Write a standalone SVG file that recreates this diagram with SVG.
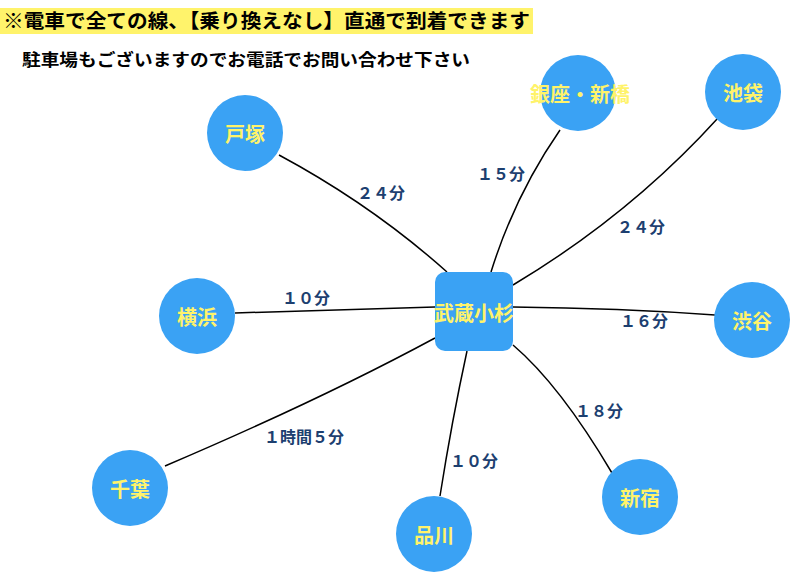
<svg xmlns="http://www.w3.org/2000/svg" width="800" height="583" viewBox="0 0 800 583">
<style>
.node{fill:#3aa2f4;}
.nl{font-family:"Noto Sans CJK JP","Noto Sans",sans-serif;font-weight:bold;font-size:20px;fill:#fff36a;text-anchor:middle;dominant-baseline:central;}
.edge{fill:none;stroke:#000;stroke-width:1.5;}
.el{font-family:"Noto Sans CJK JP","Noto Sans",sans-serif;font-weight:bold;font-size:16px;fill:#1d3f70;}
.hd{font-family:"Noto Sans CJK JP","Noto Sans",sans-serif;font-weight:bold;fill:#000;}
</style>
<rect width="800" height="583" fill="#fff"/>
<g id="header">
<rect x="0" y="8" width="533" height="26" fill="#fff36b"/>
<text class="hd" x="3" y="28" font-size="19.8" textLength="527" lengthAdjust="spacingAndGlyphs">※電車で全ての線、【乗り換えなし】直通で到着できます</text>
<text class="hd" x="22" y="66" font-size="16.5" textLength="448" lengthAdjust="spacingAndGlyphs">駐車場もございますのでお電話でお問い合わせ下さい</text>
</g>
<g id="connectors">
<path class="edge" d="M279,155 Q372,205 447,272"/>
<path class="edge" d="M560,130 Q515,195 491,272"/>
<path class="edge" d="M718,118 Q630,215 513,285"/>
<path class="edge" d="M235,313 L435,307"/>
<path class="edge" d="M513,307 Q620,308 715,315"/>
<path class="edge" d="M165,466 Q320,400 435,338"/>
<path class="edge" d="M440,496 Q452,420 467,351"/>
<path class="edge" d="M612,473 Q560,385 513,345"/>
<text class="el" x="357" y="199">２４分</text>
<text class="el" x="477" y="180">１５分</text>
<text class="el" x="617" y="233">２４分</text>
<text class="el" x="282" y="304">１０分</text>
<text class="el" x="620" y="327">１６分</text>
<text class="el" x="264" y="443">１時間５分</text>
<text class="el" x="450" y="467">１０分</text>
<text class="el" x="575" y="417">１８分</text>
</g>
<g id="musashikosugi"><rect class="node" x="435" y="272" width="78" height="79" rx="10"/><text class="nl" x="474" y="312" font-size="17">武蔵小杉</text></g>
<g id="totsuka"><circle class="node" cx="245" cy="133" r="38"/><text class="nl" x="245" y="133">戸塚</text></g>
<g id="ginza"><circle class="node" cx="578" cy="93" r="38"/><text class="nl" x="580" y="93" font-size="17.5">銀座・新橋</text></g>
<g id="ikebukuro"><circle class="node" cx="743" cy="92" r="38"/><text class="nl" x="743" y="92">池袋</text></g>
<g id="yokohama"><circle class="node" cx="197" cy="316" r="38"/><text class="nl" x="197" y="316">横浜</text></g>
<g id="shibuya"><circle class="node" cx="752" cy="320" r="38"/><text class="nl" x="752" y="320">渋谷</text></g>
<g id="chiba"><circle class="node" cx="130" cy="488" r="38"/><text class="nl" x="130" y="488">千葉</text></g>
<g id="shinagawa"><circle class="node" cx="434" cy="534" r="38"/><text class="nl" x="434" y="534">品川</text></g>
<g id="shinjuku"><circle class="node" cx="640" cy="497" r="38"/><text class="nl" x="640" y="497">新宿</text></g>
</svg>
